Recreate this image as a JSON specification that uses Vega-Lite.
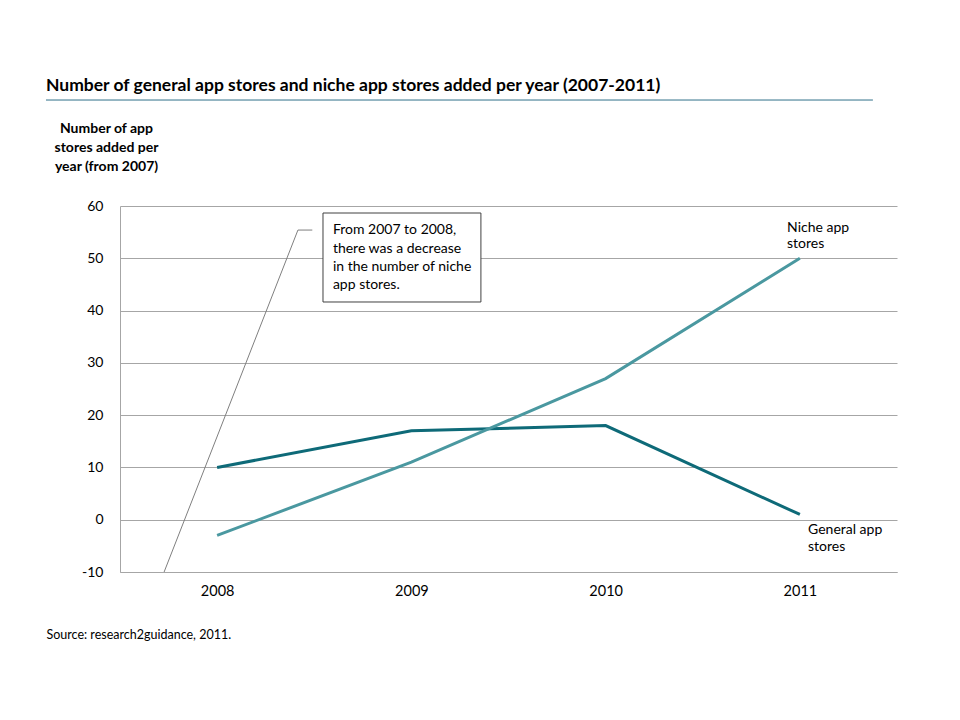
{
  "$schema": "https://vega.github.io/schema/vega-lite/v6.json",
  "autosize": "none",
  "width": 777,
  "height": 366,
  "padding": {"left": 120, "top": 206, "right": 63, "bottom": 148},
  "background": "white",
  "config": {
    "font": "Lato",
    "view": {"stroke": null},
    "axis": {"labelFont": "Lato", "titleFont": "Lato"}
  },
  "title": {
    "text": "Number of general  app stores and niche app stores added per year (2007-2011)",
    "anchor": "start",
    "frame": "group",
    "font": "Lato",
    "fontSize": 17.5,
    "fontWeight": "bold",
    "color": "#000000",
    "dx": -74,
    "dy": -5,
    "offset": 0
  },
  "datasets": {
    "series": [
      {"year": 2008, "series": "General app stores", "value": 10},
      {"year": 2009, "series": "General app stores", "value": 17},
      {"year": 2010, "series": "General app stores", "value": 18},
      {"year": 2011, "series": "General app stores", "value": 1},
      {"year": 2008, "series": "Niche app stores", "value": -3},
      {"year": 2009, "series": "Niche app stores", "value": 11},
      {"year": 2010, "series": "Niche app stores", "value": 27},
      {"year": 2011, "series": "Niche app stores", "value": 50}
    ],
    "leader": [
      {"order": 1, "x": 2007.727, "y": -10},
      {"order": 2, "x": 2008.416, "y": 55.4},
      {"order": 3, "x": 2008.49, "y": 55.4}
    ],
    "box": [
      {"x1": 2008.545, "x2": 2009.358, "y1": 58.66, "y2": 41.64}
    ],
    "boxtext": [
      {"x": 2008.596, "y": 55.4, "text": "From 2007  to 2008,"},
      {"x": 2008.596, "y": 51.8, "text": "there was a decrease"},
      {"x": 2008.596, "y": 48.3, "text": "in the number of niche"},
      {"x": 2008.596, "y": 44.8, "text": "app stores."}
    ],
    "labels": [
      {"x": 2010.934, "y": 55.8, "text": "Niche app"},
      {"x": 2010.934, "y": 52.7, "text": "stores"},
      {"x": 2011.042, "y": -1.95, "text": "General app"},
      {"x": 2011.042, "y": -5.2, "text": "stores"}
    ],
    "titlerule": [
      {"x1": 2007.119, "x2": 2011.376, "y": 80.27}
    ]
  },
  "layer": [
    {
      "data": {"name": "series"},
      "mark": {"type": "line", "strokeWidth": 3, "clip": false},
      "encoding": {
        "x": {
          "field": "year", "type": "quantitative",
          "scale": {"domain": [2007.5, 2011.5], "nice": false, "zero": false},
          "axis": {
            "values": [2008, 2009, 2010, 2011], "format": "d",
            "grid": false, "ticks": false, "domain": true, "domainColor": "#a6a6a6", "domainWidth": 1,
            "labelFontSize": 14.5, "labelColor": "#000000", "labelPadding": 12,
            "title": "Source: research2guidance, 2011.",
            "titleFontSize": 12.5, "titleFontWeight": "normal", "titleColor": "#000000",
            "titleAnchor": "start", "titleAlign": "left", "titleX": -74, "titleY": 56
          }
        },
        "y": {
          "field": "value", "type": "quantitative",
          "scale": {"domain": [-10, 60], "nice": false, "zero": false},
          "axis": {
            "values": [-10, 0, 10, 20, 30, 40, 50, 60],
            "labelExpr": "'' + datum.value",
            "grid": true, "gridColor": "#a6a6a6", "gridWidth": 1,
            "ticks": false, "domain": true, "domainColor": "#a6a6a6", "domainWidth": 1,
            "labelFontSize": 14, "labelColor": "#000000", "labelPadding": 17,
            "title": ["Number of app", "stores added per", "year (from 2007)"],
            "titleFontSize": 14, "titleFontWeight": "bold", "titleColor": "#000000",
            "titleAngle": 0, "titleAlign": "center", "titleBaseline": "alphabetic",
            "titleX": -14, "titleY": -74, "titleLineHeight": 19
          }
        },
        "color": {
          "field": "series", "type": "nominal",
          "scale": {"domain": ["General app stores", "Niche app stores"], "range": ["#0e6a78", "#4a98a0"]},
          "legend": null
        }
      }
    },
    {
      "data": {"name": "leader"},
      "mark": {"type": "line", "color": "#7f7f7f", "strokeWidth": 1, "clip": false},
      "encoding": {
        "x": {"field": "x", "type": "quantitative"},
        "y": {"field": "y", "type": "quantitative"},
        "order": {"field": "order"}
      }
    },
    {
      "data": {"name": "box"},
      "mark": {"type": "rect", "fill": "white", "stroke": "#404040", "strokeWidth": 1},
      "encoding": {
        "x": {"field": "x1", "type": "quantitative"},
        "x2": {"field": "x2"},
        "y": {"field": "y1", "type": "quantitative"},
        "y2": {"field": "y2"}
      }
    },
    {
      "data": {"name": "boxtext"},
      "mark": {"type": "text", "align": "left", "baseline": "middle", "fontSize": 14, "font": "Lato", "color": "#000000"},
      "encoding": {
        "x": {"field": "x", "type": "quantitative"},
        "y": {"field": "y", "type": "quantitative"},
        "text": {"field": "text"}
      }
    },
    {
      "data": {"name": "labels"},
      "mark": {"type": "text", "align": "left", "baseline": "middle", "fontSize": 14, "font": "Lato", "color": "#000000", "clip": false},
      "encoding": {
        "x": {"field": "x", "type": "quantitative"},
        "y": {"field": "y", "type": "quantitative"},
        "text": {"field": "text"}
      }
    },
    {
      "data": {"name": "titlerule"},
      "mark": {"type": "rule", "color": "#31708a", "strokeWidth": 1, "clip": false},
      "encoding": {
        "x": {"field": "x1", "type": "quantitative"},
        "x2": {"field": "x2"},
        "y": {"field": "y", "type": "quantitative"}
      }
    }
  ]
}
